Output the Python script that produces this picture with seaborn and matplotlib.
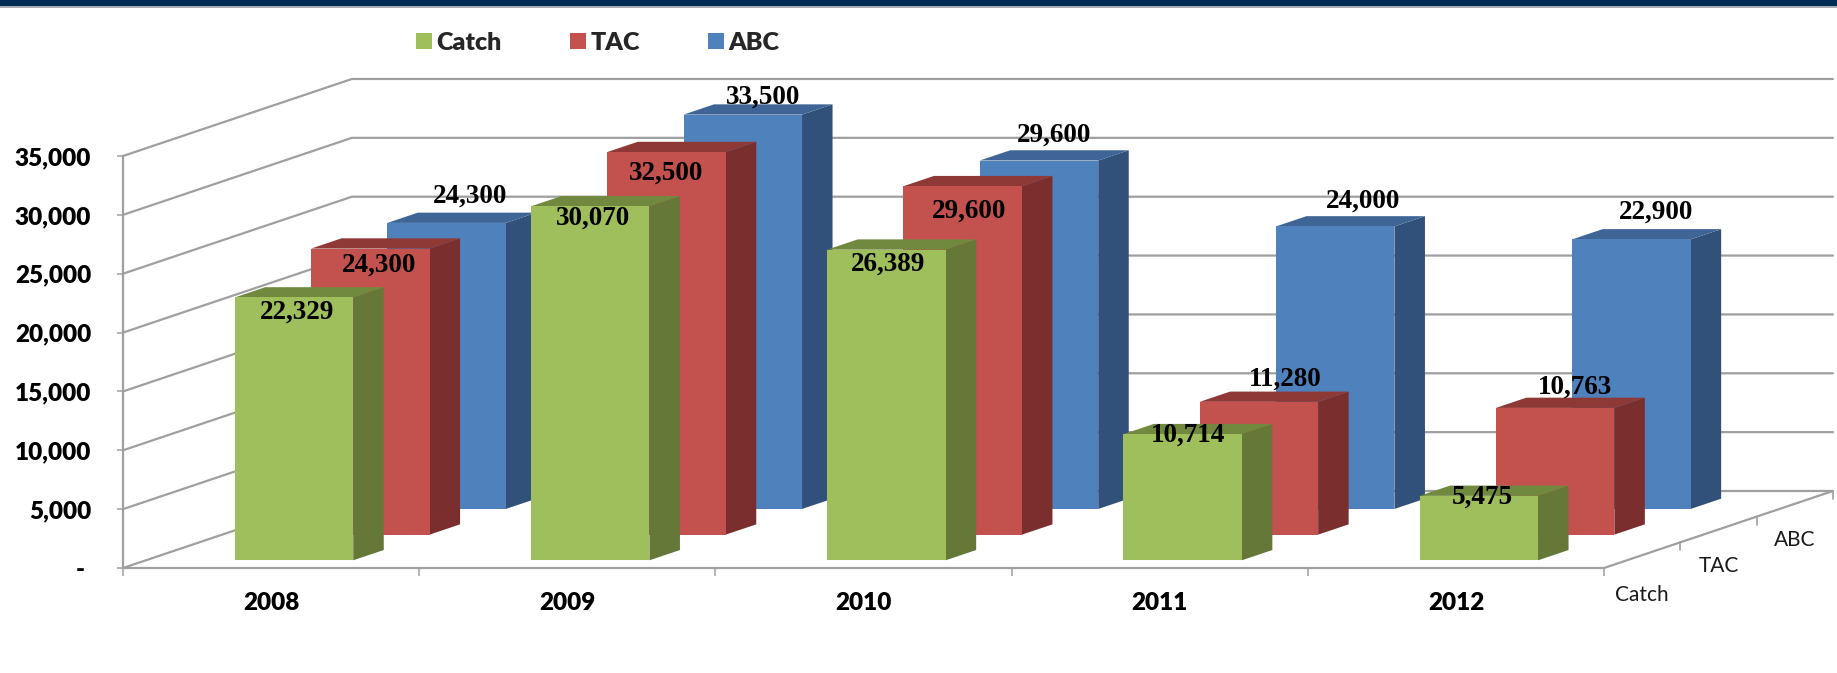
import numpy as np
import pandas as pd
import matplotlib
matplotlib.use("Agg")
import matplotlib.pyplot as plt
from matplotlib.patches import Rectangle, Patch
from matplotlib.ticker import FuncFormatter
import seaborn as sns

# ---- data ----
years = ["2008", "2009", "2010", "2011", "2012"]
catch = [22329, 30070, 26389, 10714, 5475]
tac = [24300, 32500, 29600, 11280, 10763]
abc = [24300, 33500, 29600, 24000, 22900]
series_names = ["Catch", "TAC", "ABC"]

# ---- style ----
face = {"Catch": "#9FBE5C", "TAC": "#C3514E", "ABC": "#4F81BD"}
side = {"Catch": "#667837", "TAC": "#7A2F2E", "ABC": "#31517A"}
top = {"Catch": "#71893F", "TAC": "#8F3937", "ABC": "#3E6596"}
GRID = "#9F9F9F"
W, H = 1837, 673
PX_L, PX_R, PX_B, PX_T = 123, 1604, 568, 156
YMAX = 35000
N = len(years)
PX_PER_CAT = (PX_R - PX_L) / N
PX_PER_VAL = (PX_B - PX_T) / YMAX
DEPTH_X = 76.3 / PX_PER_CAT      # category units per depth row
DEPTH_Y = 25.67 / PX_PER_VAL     # value units per depth row
BAR_W = 0.4
BAR_D = 0.4
BOLD = 800

# hand-placed label nudges in pixels, (right, up) from the bar's front-top centre
label_nudge = {
    "Catch": [(3, -15), (2.5, -12.3), (1.6, -15), (5.4, -0.7), (4, -1)],
    "TAC": [(9, -16.5), (0, -21), (6, -25), (26, 22.6), (20, 20.7)],
    "ABC": [(23, 27), (20, 17.7), (15, 25.6), (28, 25), (25, 27.4)],
}
depth_label_drop = {"Catch": 40, "TAC": 37, "ABC": 36}

sns.set_theme(style="white")
plt.rcParams["font.family"] = ["Lato", "DejaVu Sans"]

fig = plt.figure(figsize=(W / 100, H / 100), dpi=100, facecolor="white")
ax = fig.add_axes([PX_L / W, 1 - PX_B / H, (PX_R - PX_L) / W, (PX_B - PX_T) / H])
ax.patch.set_alpha(0)


def proj(cat, depth, value):
    return cat + depth * DEPTH_X, value + depth * DEPTH_Y


# header band
fig.add_artist(Rectangle((0, 1 - 6 / H), 1, 6 / H, transform=fig.transFigure, color="#012A55", lw=0))
fig.add_artist(Rectangle((0, 1 - 8 / H), 1, 2 / H, transform=fig.transFigure, color="#A9ADB1", lw=0))

# walls: gridlines on the back and left side
for v in range(0, YMAX + 1, 5000):
    xs, ys = zip(proj(0, 0, v), proj(0, 3, v), proj(N, 3, v))
    ax.plot(xs, ys, color=GRID, lw=1.6, clip_on=False, zorder=1, solid_joinstyle="miter")
# floor right edge and depth ticks
xs, ys = zip(proj(N, 0, 0), proj(N, 3, 0))
ax.plot(xs, ys, color=GRID, lw=1.6, clip_on=False, zorder=1)
tick_val = 8 / PX_PER_VAL
for d in (1, 2, 3):
    xs, ys = zip(proj(N, d, 0), proj(N, d, -tick_val))
    ax.plot(xs, ys, color=GRID, lw=1.2, clip_on=False, zorder=1)

# bars, back row first
values = {"Catch": catch, "TAC": tac, "ABC": abc}
depths = {"Catch": 0.3, "TAC": 1.3, "ABC": 2.3}
base_z = {"ABC": 2, "TAC": 4, "Catch": 6}
for name in ["ABC", "TAC", "Catch"]:
    d = depths[name]
    vals = values[name]
    df = pd.DataFrame({
        "pos": [i + 0.5 + d * DEPTH_X for i in range(N)],
        "value": vals,
    })
    sns.barplot(data=df, x="pos", y="value", native_scale=True, width=BAR_W, color=face[name],
                saturation=1, errorbar=None, bottom=d * DEPTH_Y, clip_on=False,
                linewidth=0, zorder=base_z[name] + 1, ax=ax)
    for i, v in enumerate(vals):
        l, r = i + 0.5 - BAR_W / 2, i + 0.5 + BAR_W / 2
        sx, sy = zip(proj(r, d, 0), proj(r, d + BAR_D, 0), proj(r, d + BAR_D, v), proj(r, d, v))
        ax.fill(sx, sy, color=side[name], lw=0, clip_on=False, zorder=base_z[name])
        tx, ty = zip(proj(l, d, v), proj(r, d, v), proj(r, d + BAR_D, v), proj(l, d + BAR_D, v))
        ax.fill(tx, ty, color=top[name], lw=0, clip_on=False, zorder=base_z[name])
        nx, ny = label_nudge[name][i]
        ax.annotate(f"{v:,}", xy=proj(i + 0.5, d, v), xytext=(nx * 0.72, ny * 0.72),
                    textcoords="offset points", ha="center", va="center",
                    family=["Liberation Serif"], fontweight="bold", fontsize=19.5,
                    color="black", zorder=9, annotation_clip=False)

# real axes
ax.set_xlim(0, N)
ax.set_ylim(0, YMAX)
ax.set_xlabel("")
ax.set_ylabel("")
for s in ("top", "right"):
    ax.spines[s].set_visible(False)
for s in ("left", "bottom"):
    ax.spines[s].set_color(GRID)
    ax.spines[s].set_linewidth(1.6)
    ax.spines[s].set_zorder(1.5)
ax.set_yticks(range(0, YMAX + 1, 5000))
ax.yaxis.set_major_formatter(FuncFormatter(lambda v, _: f"{int(v):,}" if v else "- "))
ax.set_xticks(range(N + 1))
ax.set_xticklabels([""] * (N + 1))
ax.set_xticks([i + 0.5 for i in range(N)], minor=True)
ax.set_xticklabels(years, minor=True)
ax.tick_params(axis="y", which="major", left=True, length=4.5, width=1.1, color=GRID, pad=18.5,
               labelsize=17.5, labelcolor="black")
ax.tick_params(axis="x", which="major", bottom=True, length=5.8, width=1.1, color=GRID)
ax.tick_params(axis="x", which="minor", bottom=False, length=0, pad=17.5, labelsize=17.5, labelcolor="black")
for lab in ax.get_yticklabels() + ax.get_xticklabels(minor=True):
    lab.set_fontweight(BOLD)

# depth axis labels
for j, name in enumerate(series_names):
    x, y = proj(N, j + 0.5, 0)
    ax.annotate(name, xy=(x, y), xytext=(0, -depth_label_drop[name] * 0.72), textcoords="offset points",
                ha="center", va="center", fontsize=15, color="#1A1A1A", annotation_clip=False)

# legend
handles = [Patch(color=face[n], lw=0) for n in series_names]
fs = 18
fig.legend(handles, series_names, ncol=3, loc="upper left", frameon=False,
           bbox_to_anchor=(416 / W, 1 - 32 / H), borderaxespad=0, borderpad=0,
           handlelength=0.64, handleheight=0.64, handletextpad=0.18, columnspacing=2.72,
           prop={"family": "Lato", "weight": BOLD, "size": fs})

fig.savefig("out.png", dpi=100, facecolor="white")
